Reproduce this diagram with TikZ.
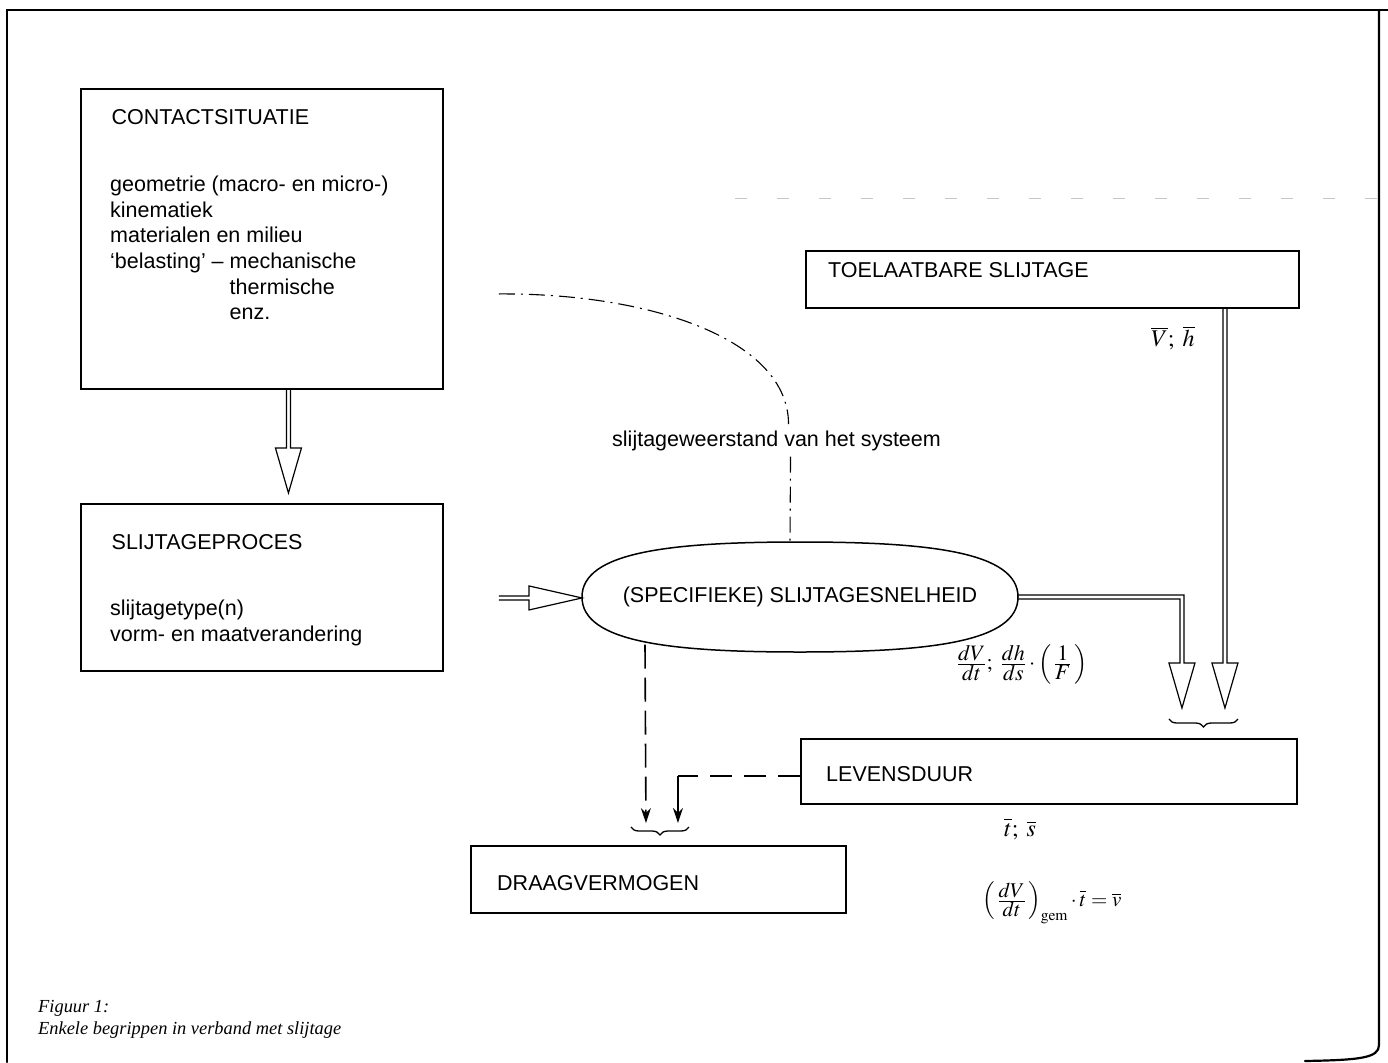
\documentclass[tikz,border=0pt]{standalone}
\usepackage{mathptmx}
\usepackage[no-math]{fontspec}
\setmainfont{Liberation Serif}
\setsansfont{Liberation Sans}
\usetikzlibrary{calc,arrows.meta,decorations.pathreplacing}
\newcommand\myfrac[2]{\frac{\displaystyle #1}{\displaystyle #2}}
\begin{document}
\begin{tikzpicture}[x=1pt,y=-1pt,
  blockbox/.style={draw, line width=1.9pt, inner sep=0pt, anchor=north west},
  lbl/.style={font=\sffamily\fontsize{21.5}{26}\selectfont, inner sep=0pt, anchor=base west},
  mathlbl/.style={inner sep=0pt},
  captxt/.style={font=\rmfamily\itshape\fontsize{18.4}{22}\selectfont, inner sep=0pt, anchor=base west},
  hollowdown/.style={line width=1.2pt, line join=miter,
    to path={let \p1=(\tikztostart), \p2=(\tikztotarget) in
      (\x1-2pt,\y1) -- (\x1-2pt,\y2+45pt) -- (\x1-13pt,\y2+45pt) -- (\x1,\y2)
      -- (\x1+13pt,\y2+45pt) -- (\x1+2pt,\y2+45pt) -- (\x1+2pt,\y1)}},
  hollowright/.style={line width=1.2pt, line join=miter,
    to path={let \p1=(\tikztostart), \p2=(\tikztotarget) in
      (\x1,\y1+2pt) -- (\x2-53pt,\y1+2pt) -- (\x2-53pt,\y1+12pt) -- (\x2,\y1)
      -- (\x2-53pt,\y1-12pt) -- (\x2-53pt,\y1-2pt) -- (\x1,\y1-2pt)}},
  dashdotline/.style={line width=1.1pt, dash pattern=on 16pt off 6pt on 2pt off 6pt},
  dasharrow/.style={line width=1.6pt, dash pattern=on 24pt off 9pt},
  tipstyle/.style={-{Stealth[length=15pt,width=10pt]}},
  bracedeco/.style={line width=1.3pt, decorate, decoration={brace, mirror, amplitude=8pt}},
  pageframe/.style={line width=2.2pt, line cap=round}
]
\useasboundingbox (0,0) rectangle (1388,1062);

% page frame
\draw[pageframe] (1388,10) -- (7,10) -- (7,1062);
\draw[pageframe] (1379,10) -- (1379,1045) .. controls (1379,1058) and (1360,1060) .. (1305,1061);
\draw[gray!45, line width=1pt, dash pattern=on 12pt off 30pt] (735,198) -- (1379,198);

% boxes
\node[blockbox, minimum width=362pt, minimum height=300pt] (contact) at (80,88) {};
\node[blockbox, minimum width=362pt, minimum height=167pt] (proc) at (80,503) {};
\node[blockbox, minimum width=493pt, minimum height=57pt] (toel) at (805,250) {};
\node[blockbox, minimum width=496pt, minimum height=65pt] (lev) at (800,738) {};
\node[blockbox, minimum width=375pt, minimum height=67pt] (draag) at (470,845) {};

% texts in boxes
\node[lbl] (ct1) at (111.5,124.5) {CONTACTSITUATIE};
\node[lbl] (ct2) at (110,191.7) {geometrie (macro- en micro-)};
\node[lbl] (ct3) at (110,217.3) {kinematiek};
\node[lbl] (ct4) at (110,242.9) {materialen en milieu};
\node[lbl] (ct5) at (110,268.5) {‘belasting’ – mechanische};
\node[lbl] (ct6) at (110,294.1) {\hphantom{‘belasting’ – }thermische};
\node[lbl] (ct7) at (110,319.7) {\hphantom{‘belasting’ – }enz.};
\node[lbl] (pt1) at (111.5,549.5) {SLIJTAGEPROCES};
\node[lbl] (pt2) at (110,615.5) {slijtagetype(n)};
\node[lbl] (pt3) at (110,641) {vorm- en maatverandering};
\node[lbl] (toeltxt) at (828,277.7) {TOELAATBARE SLIJTAGE};
\node[lbl] (levtxt) at (826,781) {LEVENSDUUR};
\node[lbl] (draagtxt) at (497,890) {DRAAGVERMOGEN};

% rounded "ellipse"
\node[font=\sffamily\fontsize{21.5}{26}\selectfont, inner sep=0pt] (rate) at (800,597) {(SPECIFIEKE) SLIJTAGESNELHEID};
\coordinate (rateN) at ($(rate.center)+(0,-54.5)$);
\coordinate (rateS) at ($(rate.center)+(0,54.5)$);
\coordinate (rateW) at ($(rate.center)+(-218,0)$);
\coordinate (rateE) at ($(rate.center)+(218,0)$);
\draw[line width=1.5pt] let \p0=(rate.center) in
  (\x0-218pt,\y0) .. controls (\x0-218pt,\y0+45pt) and (\x0-130pt,\y0+55pt) .. (\x0,\y0+55pt)
  .. controls (\x0+130pt,\y0+55pt) and (\x0+218pt,\y0+45pt) .. (\x0+218pt,\y0)
  .. controls (\x0+218pt,\y0-45pt) and (\x0+130pt,\y0-55pt) .. (\x0,\y0-55pt)
  .. controls (\x0-130pt,\y0-55pt) and (\x0-218pt,\y0-45pt) .. (\x0-218pt,\y0) -- cycle;

% resistance label and dash-dot connector
\node[lbl] (resist) at (612,446) {slijtageweerstand van het systeem};
\coordinate (wstart) at ($(contact.east)+(55,55)$);
\coordinate (wbend) at ($(resist.north)+(12,-6)$);
\draw[dashdotline] (wstart) .. controls (650,293) and ($(wbend)+(0,-85)$) .. (wbend);
\draw[dashdotline] ($(resist.south)+(14,6)$) -- ($(rateN)+(-10,0)$);

% hollow arrows
\coordinate (a1s) at ($(contact.south)+(26.5,0)$);
\draw[hollowdown] (a1s) to ($(proc.north)+(0,-10)$);
\coordinate (a2s) at ($(proc.east)+(55,10.5)$);
\draw[hollowright] (a2s) to (rateW);
\coordinate (tipA) at ($(lev.north)+(133,-30)$);
\coordinate (tipB) at ($(lev.north)+(176,-30)$);
\draw[line width=1.2pt, line join=miter] let \p1=(rateE), \p2=(tipA) in
  (\x1,\y1+2pt) -- (\x2+2pt,\y1+2pt) -- (\x2+2pt,\y2+45pt) -- (\x2+13pt,\y2+45pt) -- (\x2,\y2)
  -- (\x2-13pt,\y2+45pt) -- (\x2-2pt,\y2+45pt) -- (\x2-2pt,\y1-2pt) -- (\x1,\y1-2pt);
\coordinate (a3s) at (toel.south -| tipB);
\draw[hollowdown] (a3s) to (tipB);

% braces
\draw[bracedeco] ($(lev.north)+(120,-19)$) coordinate (brAl) -- ($(lev.north)+(189,-19)$) coordinate (brAr);
\draw[bracedeco] ($(draag.north)+(-27.5,-18)$) coordinate (brBl) -- ($(draag.north)+(30.5,-18)$) coordinate (brBr);

% dashed connectors to DRAAGVERMOGEN
\coordinate (dtipA) at ($(draag.north)+(-12.5,-22)$);
\coordinate (dtipB) at ($(draag.north)+(19.5,-22)$);
\coordinate (dstart) at ($(rateS)+(-155,-7)$);
\draw[dasharrow, tipstyle] (dstart) -- (dtipA);
\coordinate (levw) at ($(lev.west)+(0,4.5)$);
\coordinate (corner) at (dtipB |- levw);
\draw[line width=1.6pt, dash pattern=on 22pt off 12pt] (levw) -- (corner);
\draw[line width=1.6pt, tipstyle] (corner) -- (dtipB);

% math labels
\node[mathlbl, font=\fontsize{24}{28}\selectfont] (mVh) at (1173,338) {$\overline{V};\;\overline{h}$};
\node[mathlbl, font=\fontsize{22}{26}\selectfont] (mrate) at (1022,664) {$\myfrac{dV}{dt};\ \myfrac{dh}{ds}\cdot\left(\,\myfrac{1}{F}\,\right)$};
\node[mathlbl, font=\fontsize{24}{28}\selectfont] (mts) at (1020,829) {$\overline{t};\;\overline{s}$};
\node[mathlbl, font=\fontsize{21}{25}\selectfont] (mgem) at (1052,903) {$\left(\,\myfrac{dV}{dt}\,\right)_{\mathrm{gem}}\cdot\overline{t}=\overline{v}$};

% caption
\node[captxt] (cap1) at (38,1012) {Figuur 1:};
\node[captxt] (cap2) at (38,1034) {Enkele begrippen in verband met slijtage};
\end{tikzpicture}
\end{document}
